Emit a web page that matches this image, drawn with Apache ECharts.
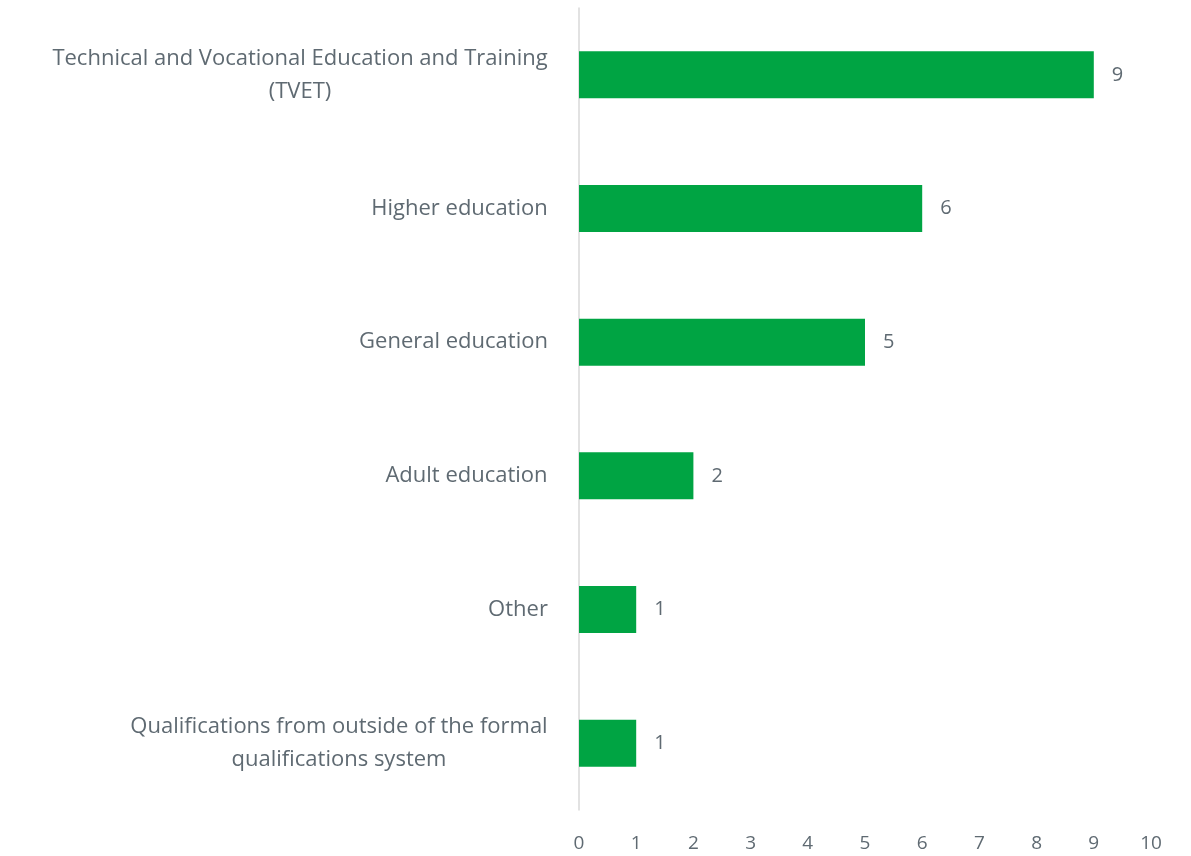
<!DOCTYPE html>
<html><head><meta charset="utf-8">
<script src="https://cdn.jsdelivr.net/npm/echarts@6/dist/echarts.min.js"></script>
<style>html,body{margin:0;padding:0;background:#fff}#c{width:1191px;height:856px}</style>
</head><body><div id="c"></div>
<script>
const categories = [
  'Technical and Vocational Education and Training\n(TVET)',
  'Higher education',
  'General education',
  'Adult education',
  'Other',
  'Qualifications from outside of the formal\nqualifications system'
];
const values = [9, 6, 5, 2, 1, 1];
const xTicks = [0, 1, 2, 3, 4, 5, 6, 7, 8, 9, 10];

const FONT = 'Open Sans';
const LABEL_SIZE = 22;
const TEXT_COLOR = '#5f6a72';

const cv = document.createElement('canvas').getContext('2d');
cv.font = LABEL_SIZE + 'px "' + FONT + '"';
const rich = {};
categories.forEach((c, i) => {
  const w = Math.max(...c.split('\n').map(l => cv.measureText(l).width));
  rich['r' + i] = { width: Math.ceil(w) + 2, align: 'center', fontFamily: FONT, fontSize: LABEL_SIZE, color: TEXT_COLOR, lineHeight: 33 };
});

const chart = echarts.init(document.getElementById('c'));
chart.setOption({
  animation: false,
  grid: { left: 579, right: 40, top: 8, bottom: 46, containLabel: false },
  xAxis: {
    type: 'value', min: 0, max: 10, interval: 1,
    axisLine: { show: false }, axisTick: { show: false },
    splitLine: { show: false },
    axisLabel: { color: TEXT_COLOR, fontFamily: FONT, fontSize: 19, margin: 24,
      formatter: v => xTicks.includes(v) ? String(v) : '' }
  },
  yAxis: {
    type: 'category', inverse: true, data: categories,
    axisLine: { show: true, lineStyle: { color: '#d9d9d9', width: 1.5 } },
    axisTick: { show: false },
    axisLabel: {
      margin: 30, align: 'right',
      formatter: (v, idx) => v.split('\n').map(l => '{r' + idx + '|' + l + '}').join('\n'),
      rich: rich
    }
  },
  series: [{
    type: 'bar', data: values, barWidth: 47,
    itemStyle: { color: '#00a443' },
    label: { show: true, position: 'right', distance: 18, color: TEXT_COLOR, fontFamily: FONT, fontSize: 20 }
  }]
});
</script></body></html>
